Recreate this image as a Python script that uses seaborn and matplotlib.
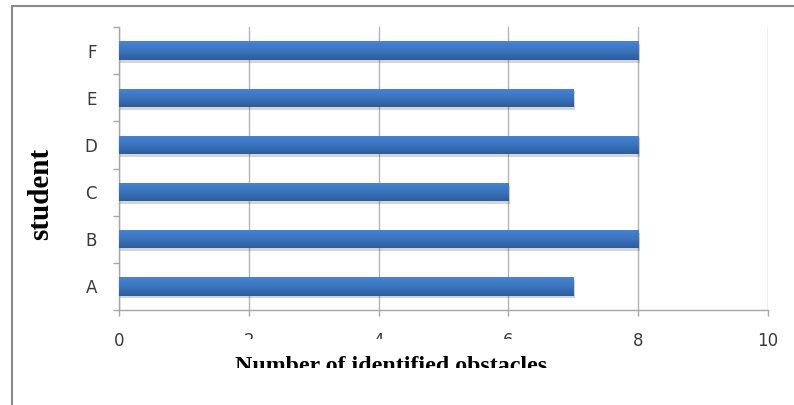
import numpy as np
import pandas as pd
import matplotlib
matplotlib.use("Agg")
import matplotlib.pyplot as plt
import seaborn as sns
from matplotlib.lines import Line2D
from matplotlib.transforms import Bbox, TransformedBbox
import matplotlib.patheffects as pe

students = ["A", "B", "C", "D", "E", "F"]
obstacles = [7, 8, 6, 8, 7, 8]
x_ticks = [0, 2, 4, 6, 8, 10]

df = pd.DataFrame({"student": students, "obstacles": obstacles})

sns.set_theme(style="white")
plt.rcParams["font.family"] = ["DejaVu Sans"]

fig = plt.figure(figsize=(7.94, 4.05), dpi=100)
ax = fig.add_axes([119 / 794, 1 - 310 / 405, 649 / 794, 283 / 405])

sns.barplot(data=df, x="obstacles", y="student", order=students[::-1],
            orient="h", color="#3a73bd", width=0.39, saturation=1,
            linewidth=0, edgecolor="none", ax=ax, zorder=3)

# vertical gradient + soft shadow on every bar
grad = np.linspace(0, 1, 64).reshape(-1, 1)
cmap = matplotlib.colors.LinearSegmentedColormap.from_list(
    "bar", ["#4784d2", "#3b74be", "#2c5c9b"])
for p in ax.patches:
    p.set_path_effects([pe.SimplePatchShadow(offset=(1.0, -2.0), alpha=0.22,
                                             shadow_rgbFace="#444444"),
                        pe.Normal()])
    x0, y0 = p.get_x(), p.get_y()
    w, h = p.get_width(), p.get_height()
    im = ax.imshow(grad, extent=(x0, x0 + w, y0 + h, y0), aspect="auto",
                   cmap=cmap, zorder=4, interpolation="bilinear")
    im.set_clip_path(p)

ax.set_xlim(0, 10)
ax.set_ylim(5.5, -0.5)
ax.set_xticks(x_ticks)
ax.set_xticklabels([str(t) for t in x_ticks])
ax.set_yticks(np.arange(-0.5, 6.0, 1.0), minor=True)
ax.set_xlabel("")
ax.set_ylabel("")

ax.grid(axis="x", color="#b4b4b4", linewidth=1.0, zorder=0)
ax.grid(axis="y", visible=False)
for side in ["top", "right"]:
    ax.spines[side].set_visible(False)
for side in ["left", "bottom"]:
    ax.spines[side].set_color("#a6a6a6")
    ax.spines[side].set_linewidth(1.0)

ax.tick_params(axis="x", which="major", direction="out", length=4, width=1,
               color="#a6a6a6", pad=12, labelsize=12, labelcolor="#3a3a3a",
               bottom=True)
ax.tick_params(axis="y", which="major", length=0, pad=16, labelsize=12,
               labelcolor="#3a3a3a")
ax.tick_params(axis="y", which="minor", direction="out", length=4, width=1,
               color="#a6a6a6", left=True)

fig.canvas.draw()
# tick labels 2, 4, 6 are cut off part way down
cut = TransformedBbox(Bbox([[0, 1 - 339 / 405], [1, 1]]), fig.transFigure)
for lbl in ax.get_xticklabels():
    if lbl.get_text() in ("2", "4", "6"):
        lbl.set_clip_box(cut)

fig.text(41 / 794, 1 - 194 / 405, "student", rotation=90, ha="center",
         va="center", fontsize=21, fontweight="bold",
         family="Liberation Serif", color="black")

xl = fig.text(391 / 794, 1 - 372 / 405, "Number of identified obstacles",
              ha="center", va="baseline", fontsize=17.2, fontweight="bold",
              family="Liberation Serif", color="black")
xl.set_clip_box(TransformedBbox(Bbox([[0, 1 - 368 / 405], [1, 1]]),
                                fig.transFigure))

# page frame
fig.add_artist(Line2D([12 / 794, 12 / 794], [0, 1 - 6 / 405],
                      transform=fig.transFigure, color="#8a8a8a", lw=1.5))
fig.add_artist(Line2D([12 / 794, 1], [1 - 6 / 405, 1 - 6 / 405],
                      transform=fig.transFigure, color="#8a8a8a", lw=1.5))

fig.savefig("out.png", dpi=100, facecolor="white")
